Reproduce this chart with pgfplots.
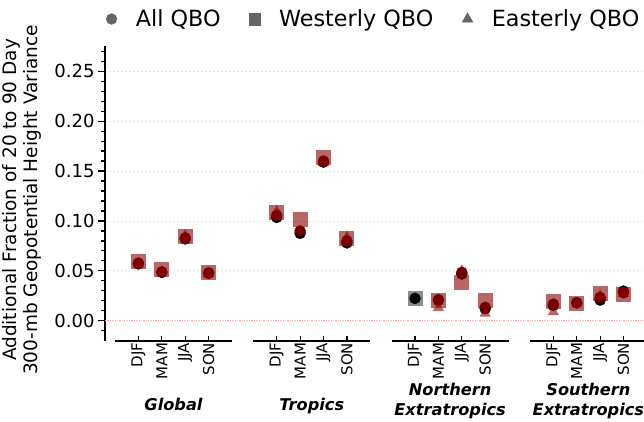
\documentclass[border=0pt]{standalone}
\usepackage{pgfplots}
\pgfplotsset{compat=1.18}
\usepackage{fontspec}
\setmainfont{DejaVu Sans}
\definecolor{dred}{HTML}{8B0000}
\definecolor{cred}{HTML}{5A0000}
\definecolor{legray}{HTML}{666666}
\definecolor{gridgray}{HTML}{E3E3E3}
\definecolor{zerored}{HTML}{FFA0A0}
\pgfplotsset{
  dataax/.style={
    anchor=south west, width=117bp, height=294.4bp, scale only axis,
    xmin=-1, xmax=4, ymin=-0.02, ymax=0.275, clip=false,
    axis x line*=bottom, axis y line=none,
    x axis line style={line width=1.8bp},
    xtick={0,1,2,3}, xticklabels={DJF,MAM,JJA,SON},
    tick align=inside, major tick length=5bp,
    xtick style={line width=1.2bp, black},
    x tick label style={rotate=90, anchor=east, font=\fontsize{15bp}{18bp}\selectfont, inner sep=2bp},
    xlabel style={at={(axis description cs:0.5,-0.2694)}, anchor=south, align=center, inner sep=0pt, text depth=4bp,
      font=\fontsize{16.2bp}{20.5bp}\selectfont\bfseries\itshape},
  },
  onelabel/.style={xlabel style={at={(axis description cs:0.5,-0.2524)}}},
  blk/.style={only marks, color=black, mark=*, mark size=5.5bp, mark options={fill=black, draw=black}},
  rc/.style={only marks, color=cred, mark=*, mark size=5.5bp, mark options={fill=cred, draw=cred}},
  sq/.style={only marks, color=dred, mark=square*, mark size=7.5bp, mark options={fill=dred, draw opacity=0, fill opacity=0.6}},
  tr/.style={only marks, color=dred, mark=triangle*, mark size=6.5bp, mark options={fill=dred, draw opacity=0, fill opacity=0.6}},
}
\begin{document}
\begin{tikzpicture}[x=1bp,y=1bp]
\path[use as bounding box] (0,0) rectangle (644,421);
% background axis: y axis, grid, zero line, legend
\begin{axis}[
  at={(105bp,80.3bp)}, anchor=south west,
  width=555bp, height=294.4bp, scale only axis,
  xmin=0, xmax=1, ymin=-0.02, ymax=0.275, clip=false,
  axis x line=none, axis y line*=left,
  y axis line style={line width=1.8bp},
  ytick={0.05,0.10,0.15,0.20,0.25},
  extra y ticks={0}, extra y tick style={grid=none},
  minor ytick={-0.01,0.01,0.02,0.03,0.04,0.06,0.07,0.08,0.09,0.11,0.12,0.13,0.14,0.16,0.17,0.18,0.19,0.21,0.22,0.23,0.24,0.26,0.27},
  tick align=outside, major tick length=7bp, minor tick length=4bp,
  ytick style={line width=1.2bp, black},
  minor tick style={line width=1bp, black},
  ymajorgrids, major grid style={gridgray, dash pattern=on 2bp off 2bp, line width=0.7bp},
  /pgf/number format/assume math mode=true,
  yticklabel style={font=\fontsize{18bp}{20bp}\selectfont, /pgf/number format/fixed, /pgf/number format/fixed zerofill, /pgf/number format/precision=2},
  ylabel={Additional Fraction of 20 to 90 Day\\300-mb Geopotential Height Variance},
  every axis y label/.style={at={(axis description cs:-0.1495,0.478)}, rotate=90, anchor=center, align=center, font=\fontsize{18.5bp}{21bp}\selectfont},
  legend columns=3,
  legend style={draw=none, fill=none, at={(axis description cs:-0.0029,1.0927)}, anchor=west, inner sep=0pt,
    nodes={inner sep=0pt},
    font=\fontsize{22.3bp}{26bp}\selectfont,
    /tikz/every odd column/.append style={column sep=16.3bp},
    /tikz/every even column/.append style={column sep=26.2bp}},
]
\addplot[zerored, dash pattern=on 1.2bp off 1.2bp, line width=0.9bp, forget plot] coordinates {(0,0) (1,0)};
\addlegendimage{legend image code/.code={\path[draw=none] (0bp,0bp) -- (16bp,0bp); \path[draw=none, mark=*, mark size=5.4bp, mark options={fill=legray, draw=legray}] plot coordinates {(8bp,0bp)};}}
\addlegendentry{All QBO}
\addlegendimage{legend image code/.code={\path[draw=none] (0bp,0bp) -- (16bp,0bp); \path[draw=none, mark=square*, mark size=5.8bp, mark options={fill=legray, draw=legray}] plot coordinates {(8bp,0bp)};}}
\addlegendentry{Westerly QBO}
\addlegendimage{legend image code/.code={\path[draw=none] (0bp,0bp) -- (16bp,0bp); \path[draw=none, mark=triangle*, mark size=6.2bp, mark options={fill=legray, draw=legray}] plot coordinates {(8bp,0bp)};}}
\addlegendentry{Easterly QBO}
\end{axis}

% Global
\begin{axis}[dataax, onelabel, at={(115bp,80.3bp)}, xlabel={Global}]
\addplot[blk] coordinates {(0,0.057) (1,0.0485) (2,0.082) (3,0.0475)};
\addplot[rc] coordinates {(0,0.0578) (1,0.0490) (2,0.083) (3,0.048)};
\addplot[sq] coordinates {(0,0.0596) (1,0.0518) (2,0.084) (3,0.0486)};
\addplot[tr] coordinates {(0,0.0576) (1,0.0486) (2,0.085) (3,0.047)};
\end{axis}

% Tropics
\begin{axis}[dataax, onelabel, at={(253.3bp,80.3bp)}, xlabel={Tropics}]
\addplot[blk] coordinates {(0,0.1035) (1,0.0876) (2,0.159) (3,0.078)};
\addplot[rc] coordinates {(0,0.1055) (1,0.090) (2,0.160) (3,0.080)};
\addplot[sq] coordinates {(0,0.1084) (1,0.1017) (2,0.1637) (3,0.0826)};
\addplot[tr] coordinates {(0,0.1094) (1,0.090) (2,0.1585) (3,0.0837)};
\end{axis}

% Northern Extratropics
\begin{axis}[dataax, at={(391.6bp,80.3bp)}, xlabel={Northern\\Extratropics}]
\addplot[only marks, color=black, mark=square*, mark size=7.5bp, mark options={fill=black, draw opacity=0, fill opacity=0.45}] coordinates {(0,0.0224)};
\addplot[blk] coordinates {(0,0.0224) (1,0.0205) (2,0.0468) (3,0.012)};
\addplot[rc] coordinates {(1,0.021) (2,0.0485) (3,0.0134)};
\addplot[sq] coordinates {(1,0.0204) (2,0.0388) (3,0.020)};
\addplot[tr] coordinates {(1,0.013) (2,0.050) (3,0.0073)};
\end{axis}

% Southern Extratropics
\begin{axis}[dataax, at={(529.9bp,80.3bp)}, xlabel={Southern\\Extratropics}]
\addplot[blk] coordinates {(0,0.0154) (1,0.018) (2,0.0207) (3,0.0297)};
\addplot[rc] coordinates {(0,0.0167) (1,0.018) (2,0.0234) (3,0.028)};
\addplot[sq] coordinates {(0,0.019) (1,0.0169) (2,0.027) (3,0.026)};
\addplot[tr] coordinates {(0,0.009) (1,0.017) (2,0.025) (3,0.0275)};
\end{axis}
\end{tikzpicture}
\end{document}
